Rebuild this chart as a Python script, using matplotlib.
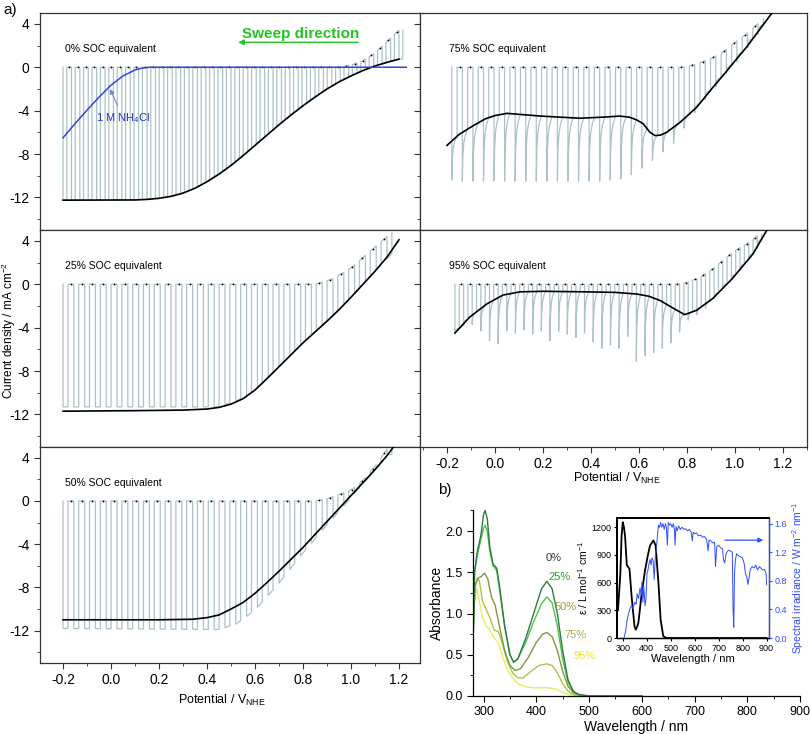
import numpy as np
import matplotlib.pyplot as plt
from matplotlib.ticker import MultipleLocator

plt.rcParams['font.family'] = ['Liberation Sans', 'DejaVu Sans']
plt.rcParams['mathtext.fontset'] = 'custom'
plt.rcParams['mathtext.rm'] = 'Liberation Sans'
plt.rcParams['mathtext.it'] = 'Liberation Sans:italic'
plt.rcParams['axes.linewidth'] = 0.9
plt.rcParams['axes.unicode_minus'] = False

# ---------------- panel a: chopped LSV data ----------------
# 0 % SOC
p0_light_x = [-0.2, 0.1, 0.15, 0.2, 0.25, 0.3, 0.35, 0.4, 0.45, 0.5, 0.55, 0.6, 0.65, 0.7, 0.75, 0.8, 0.85, 0.9, 0.95, 1.0, 1.05, 1.1, 1.15, 1.2]
p0_light_y = [-12.25, -12.23, -12.18, -12.08, -11.9, -11.6, -11.15, -10.55, -9.85, -9.05, -8.15, -7.2, -6.25, -5.3, -4.4, -3.55, -2.75, -2.0, -1.35, -0.8, -0.3, 0.12, 0.45, 0.75]
p0_dark_x = [-0.2, 0.95, 1.0, 1.05, 1.1, 1.15, 1.2]
p0_dark_y = [0, 0, 0.2, 0.6, 1.3, 2.4, 3.4]
nh4cl_x = [-0.2, -0.15, -0.1, -0.05, 0.0, 0.05, 0.1, 0.13, 0.16, 0.2, 1.23]
nh4cl_y = [-6.5, -5.2, -3.95, -2.75, -1.65, -0.8, -0.25, -0.07, 0.0, 0.0, 0.0]

# 25 % SOC
p25_light_x = [-0.2, 0.1, 0.3, 0.4, 0.45, 0.5, 0.55, 0.6, 0.65, 0.7, 0.75, 0.8, 0.85, 0.9, 0.95, 1.0, 1.05, 1.1, 1.15, 1.2]
p25_light_y = [-11.7, -11.65, -11.6, -11.5, -11.35, -11.05, -10.55, -9.75, -8.7, -7.6, -6.5, -5.4, -4.4, -3.4, -2.35, -1.2, 0.0, 1.2, 2.5, 4.1]
p25_trough_x = [-0.2, 0.45, 0.55, 0.6, 0.7, 0.8, 0.9, 1.0, 1.1, 1.17]
p25_trough_y = [-11.3, -11.3, -10.5, -9.75, -7.6, -5.4, -3.4, -1.2, 1.2, 2.8]
p25_dark_x = [-0.2, 0.85, 0.925, 1.0, 1.067, 1.13, 1.17]
p25_dark_y = [0, 0, 0.5, 1.5, 2.8, 4.0, 4.8]

# 50 % SOC
p50_light_x = [-0.2, 0.2, 0.34, 0.4, 0.45, 0.5, 0.55, 0.6, 0.65, 0.7, 0.75, 0.8, 0.85, 0.9, 0.95, 1.0, 1.05, 1.1, 1.15, 1.18]
p50_light_y = [-11.0, -11.0, -10.95, -10.8, -10.55, -10.0, -9.4, -8.55, -7.55, -6.5, -5.4, -4.3, -3.1, -1.9, -0.7, 0.5, 1.7, 2.9, 4.2, 5.1]
p50_trough_x = [-0.2, 0.45, 0.52, 0.6, 0.7, 0.8, 0.9, 1.0, 1.1, 1.15]
p50_trough_y = [-11.8, -11.9, -11.4, -10.1, -7.6, -4.8, -2.2, 0.3, 2.9, 4.3]
p50_dark_x = [-0.2, 0.85, 0.9, 0.925, 1.0, 1.05, 1.1, 1.15]
p50_dark_y = [0, 0, 0.2, 0.4, 1.0, 1.9, 3.2, 4.8]

# 75 % SOC
p75_light_x = [-0.2, -0.15, -0.092, -0.04, 0.0, 0.05, 0.19, 0.354, 0.45, 0.52, 0.56, 0.59, 0.617, 0.646, 0.667, 0.69, 0.715, 0.77, 0.84, 0.91, 0.96, 1.008, 1.05, 1.09, 1.154]
p75_light_y = [-7.2, -6.2, -5.4, -4.75, -4.45, -4.25, -4.5, -4.7, -4.6, -4.5, -4.6, -4.85, -5.2, -6.0, -6.3, -6.25, -6.0, -5.1, -3.7, -1.8, -0.5, 0.8, 1.9, 3.1, 5.0]
p75_dark_x = [-0.2, 0.77, 0.8, 0.85, 0.9, 0.95, 1.0, 1.05, 1.1, 1.14]
p75_dark_y = [0, 0, 0.05, 0.4, 0.8, 1.4, 2.3, 3.1, 4.1, 4.9]
p75_spikes = [-10.4, -10.5, -10.5, -10.5, -10.5, -10.5, -10.5, -10.5, -10.5, -10.5,
              -10.5, -10.5, -10.5, -10.5, -10.5, -10.4, -10.3, -9.9, -9.3, -8.6,
              -7.8, -7.0, -5.6, -4.2, -3.0, -1.8, -0.6, 0.5, 1.8, 3.0]

# 95 % SOC
p95_light_x = [-0.167, -0.104, -0.033, 0.033, 0.104, 0.2, 0.38, 0.5, 0.59, 0.64, 0.688, 0.742, 0.79, 0.84, 0.908, 0.988, 1.075, 1.133]
p95_light_y = [-4.5, -3.0, -1.8, -1.0, -0.7, -0.65, -0.7, -0.75, -0.9, -1.1, -1.5, -2.2, -2.8, -2.4, -1.3, 0.5, 2.8, 5.0]
p95_dark_x = [-0.2, 0.75, 0.79, 0.85, 0.9, 0.95, 1.0, 1.07, 1.1]
p95_dark_y = [0, 0, 0.1, 0.6, 1.3, 2.2, 3.1, 4.0, 4.6]
p95_spikes = [-4.5, -3.8, -3.7, -4.3, -5.2, -5.5, -4.3, -4.5, -4.2, -4.6,
              -4.3, -5.2, -4.4, -4.6, -4.9, -4.5, -5.3, -5.9, -5.6, -5.9,
              -4.8, -7.1, -6.6, -6.3, -5.9, -5.4, -4.4, -3.3, -2.8, -2.2,
              -1.3, -0.4, 0.5, 1.3, 2.2, 3.3]

# ---------------- panel b: UV-vis spectra ----------------
abs_wl = {
    '0%':  [280, 283, 288, 295, 300, 303, 307, 312, 318, 325, 330, 340, 350, 357, 365, 380, 395, 410, 420, 430, 440, 450, 460, 470, 480, 500, 600],
    '25%': [280, 283, 288, 295, 300, 303, 307, 312, 318, 325, 330, 340, 350, 357, 365, 380, 395, 410, 420, 430, 440, 450, 460, 470, 480, 500, 600],
    '50%': [280, 284, 290, 296, 302, 308, 315, 322, 330, 340, 350, 360, 370, 385, 400, 412, 420, 430, 440, 450, 460, 470, 485, 500, 600],
    '75%': [280, 284, 288, 292, 298, 305, 312, 320, 328, 335, 345, 355, 365, 375, 390, 405, 420, 430, 440, 450, 460, 470, 490, 600],
    '95%': [280, 283, 287, 292, 298, 305, 312, 320, 328, 335, 345, 355, 365, 380, 395, 420, 435, 445, 455, 470, 490, 600],
}
abs_val = {
    '0%':  [0.6, 1.5, 1.75, 1.95, 2.2, 2.25, 2.15, 1.8, 1.6, 1.55, 1.35, 0.85, 0.5, 0.41, 0.45, 0.7, 1.0, 1.3, 1.39, 1.3, 1.0, 0.55, 0.2, 0.06, 0.02, 0.0, 0.0],
    '25%': [0.65, 1.5, 1.7, 1.9, 2.03, 2.07, 2.0, 1.75, 1.58, 1.52, 1.3, 0.85, 0.5, 0.41, 0.45, 0.65, 0.9, 1.12, 1.2, 1.13, 0.85, 0.45, 0.17, 0.05, 0.01, 0.0, 0.0],
    '50%': [0.7, 1.35, 1.43, 1.45, 1.49, 1.42, 1.2, 1.1, 0.85, 0.55, 0.37, 0.31, 0.33, 0.47, 0.65, 0.75, 0.77, 0.72, 0.55, 0.3, 0.12, 0.04, 0.01, 0.0, 0.0],
    '75%': [0.8, 1.3, 1.43, 1.4, 1.15, 1.05, 0.95, 0.8, 0.78, 0.65, 0.42, 0.28, 0.22, 0.22, 0.3, 0.37, 0.39, 0.37, 0.28, 0.15, 0.06, 0.02, 0.0, 0.0],
    '95%': [0.9, 1.2, 1.3, 1.15, 0.95, 0.85, 0.8, 0.7, 0.65, 0.5, 0.32, 0.22, 0.15, 0.11, 0.1, 0.1, 0.09, 0.06, 0.03, 0.01, 0.0, 0.0],
}
abs_colors = {'0%': '#2f7a45', '25%': '#4cc44c', '50%': '#7f983c', '75%': '#a6c64a', '95%': '#e2ee5c'}
label_colors = {'0%': '#333333', '25%': '#2e9e2e', '50%': '#9aa03a', '75%': '#a2ae40', '95%': '#e6e640'}
label_pos = {'0%': (432, 1.67), '25%': (445, 1.44), '50%': (455, 1.08), '75%': (474, 0.74), '95%': (491, 0.49)}

eps_wl = [280, 290, 295, 300, 305, 310, 317, 328, 337, 349, 355, 365, 379, 393, 405, 414, 428, 437, 449, 458, 469, 483, 900]
eps_val = [300, 700, 1100, 1254, 1200, 1093, 788, 750, 448, 125, 90, 161, 484, 734, 900, 1003, 1057, 1003, 591, 197, 18, 0, 0]

sol_wl = [305, 312, 318, 325, 331, 337, 343, 350, 356, 360, 366, 372, 377, 380, 384, 388, 393, 397, 401, 405,
          410, 414, 418, 422, 427, 431, 436, 440, 445, 449, 453, 458, 463, 468, 473, 478, 482, 486, 490, 495,
          500, 506, 511, 516, 518, 522, 527, 533, 540, 547, 555, 562, 570, 578, 586, 590, 594, 600, 608, 616,
          625, 633, 641, 650, 656, 660, 668, 676, 683, 687, 692, 700, 708, 716, 720, 725, 731, 738, 745, 752,
          757, 760, 763, 766, 770, 775, 783, 791, 799, 806, 812, 818, 822, 826, 832, 840, 848, 855, 862, 870,
          878, 885, 892, 898, 900]
sol_val = [0.0, 0.1, 0.25, 0.35, 0.42, 0.45, 0.41, 0.5, 0.47, 0.62, 0.55, 0.7, 0.6, 0.78, 0.5, 0.72, 0.45, 0.55, 0.9, 0.95,
           1.05, 1.1, 1.02, 1.12, 1.08, 0.82, 1.15, 1.25, 1.45, 1.58, 1.55, 1.62, 1.55, 1.6, 1.52, 1.6, 1.55, 1.3, 1.62, 1.58,
           1.6, 1.55, 1.6, 1.5, 1.3, 1.56, 1.5, 1.57, 1.52, 1.55, 1.52, 1.53, 1.5, 1.52, 1.48, 1.36, 1.48, 1.46, 1.47, 1.43,
           1.44, 1.41, 1.42, 1.38, 1.22, 1.37, 1.36, 1.33, 1.34, 1.0, 1.28, 1.3, 1.26, 1.25, 1.1, 1.05, 1.18, 1.22, 1.23, 1.21,
           1.2, 0.4, 0.15, 0.9, 1.1, 1.18, 1.15, 1.14, 1.12, 1.05, 0.9, 0.85, 0.75, 0.82, 0.96, 1.0, 0.98, 1.02, 0.95, 1.0,
           0.97, 0.95, 0.96, 0.9, 0.75]

GRAY = '#adc2c6'
PROFILE_T = [0.0, 0.1, 0.3, 0.6, 1.0]
PROFILE_F = [0.0, 0.5, 0.75, 0.9, 1.0]


def chopped(x0, period, n, duty, light_x, light_y, dark_x, dark_y,
            trough_x=None, trough_y=None, spikes=None):
    xs, ys, dx = [], [], []
    w = duty * period
    for i in range(n):
        c = x0 + i * period
        d0 = np.interp(c, dark_x, dark_y)
        d1 = np.interp(c + w, dark_x, dark_y)
        if spikes is None:
            seg_x = [c, c + w]
            seg_y = [np.interp(c, trough_x, trough_y), np.interp(c + w, trough_x, trough_y)]
        else:
            start = np.interp(c + w, light_x, light_y)
            lo = spikes[i]
            seg_x = [c + t * w for t in PROFILE_T]
            seg_y = [lo + f * (start - lo) for f in PROFILE_F]
        xs += [c] + seg_x + [c + w]
        ys += [d0] + seg_y + [d1]
        if i < n - 1:
            dx.append(c + w + (period - w) / 2)
    dy = np.interp(dx, dark_x, dark_y)
    return xs, ys, dx, dy


def style_a(ax, xlim, show_x, show_y):
    ax.set_xlim(*xlim)
    ax.set_ylim(-15, 5)
    ax.xaxis.set_major_locator(MultipleLocator(0.2))
    ax.xaxis.set_minor_locator(MultipleLocator(0.1))
    ax.yaxis.set_major_locator(MultipleLocator(4))
    ax.yaxis.set_minor_locator(MultipleLocator(2))
    ax.tick_params(which='both', direction='out', labelsize=10, color='#333333')
    ax.tick_params(which='major', length=4)
    ax.tick_params(which='minor', length=2)
    if show_x:
        ax.set_xticklabels([f'{v:.1f}' for v in ax.get_xticks()])
    else:
        ax.tick_params(labelbottom=False)
    if not show_y:
        ax.tick_params(labelleft=False)
    for s in ax.spines.values():
        s.set_color('#333333')


W, H = 812, 734
fig = plt.figure(figsize=(W / 100, H / 100), dpi=100)

def fax(l, t, r, b):
    return fig.add_axes([l / W, 1 - b / H, (r - l) / W, (b - t) / H])

left_lim = (-0.296, 1.2875)
right_lim = (-0.3125, 1.3)
ax0 = fax(40, 13, 420, 230)
ax25 = fax(40, 230, 420, 447)
ax50 = fax(40, 447, 420, 663)
ax75 = fax(420, 13, 807, 230)
ax95 = fax(420, 230, 807, 447)

panels = [
    (ax0, '0% SOC equivalent', chopped(-0.2, 0.035, 41, 0.45, p0_light_x, p0_light_y, p0_dark_x, p0_dark_y, p0_light_x, p0_light_y), p0_light_x, p0_light_y, left_lim, False, True),
    (ax25, '25% SOC equivalent', chopped(-0.2, 0.045, 31, 0.45, p25_light_x, p25_light_y, p25_dark_x, p25_dark_y, p25_trough_x, p25_trough_y), p25_light_x, p25_light_y, left_lim, False, True),
    (ax50, '50% SOC equivalent', chopped(-0.2, 0.045, 31, 0.45, p50_light_x, p50_light_y, p50_dark_x, p50_dark_y, p50_trough_x, p50_trough_y), p50_light_x, p50_light_y, left_lim, True, True),
    (ax75, '75% SOC equivalent', chopped(-0.18, 0.044, 30, 0.5, p75_light_x, p75_light_y, p75_dark_x, p75_dark_y, spikes=p75_spikes), p75_light_x, p75_light_y, right_lim, False, False),
    (ax95, '95% SOC equivalent', chopped(-0.167, 0.036, 36, 0.5, p95_light_x, p95_light_y, p95_dark_x, p95_dark_y, spikes=p95_spikes), p95_light_x, p95_light_y, right_lim, True, False),
]
for ax, title, (cx, cy, dx, dy), lx, ly, xlim, sx, sy in panels:
    ax.plot(cx, cy, color=GRAY, lw=0.9, zorder=1)
    ax.plot(lx, ly, color='black', lw=1.2, zorder=3)
    ax.plot(dx, dy, 'o', color='black', ms=1.3, mew=0, zorder=3)
    ax.text(-0.19, 1.7, title, fontsize=7.5, ha='left', va='center')
    style_a(ax, xlim, sx, sy)

# 0 % extras
ax0.plot(nh4cl_x, nh4cl_y, color='#3344dd', lw=1.1, zorder=4)
ax0.annotate('1 M NH$_4$Cl', xy=(-0.004, -2.0), xytext=(0.05, -4.7), color='#2233bb', fontsize=8,
             ha='center', va='center',
             arrowprops=dict(arrowstyle='-|>', color='#7788cc', lw=0.8, mutation_scale=7, shrinkA=2, shrinkB=0))
ax0.text(0.79, 3.1, 'Sweep direction', color='#22c422', fontsize=11, fontweight='bold',
         family=['Liberation Sans Narrow', 'Liberation Sans'], ha='center', va='center')
ax0.annotate('', xy=(0.53, 2.3), xytext=(1.03, 2.3),
             arrowprops=dict(arrowstyle='-|>', color='#22c422', lw=1.0, mutation_scale=8, shrinkA=0, shrinkB=0))

fig.text(3 / W, 1 - 10 / H, 'a)', fontsize=11, va='center', ha='left')
fig.text(9 / W, 1 - 330 / H, 'Current density / mA cm$^{-2}$', rotation=90, fontsize=8.5, ha='center', va='center')
fig.text(222 / W, 1 - 700 / H, 'Potential / V$_{\\mathrm{NHE}}$', fontsize=9, ha='center', va='center')
fig.text(617 / W, 1 - 478 / H, 'Potential / V$_{\\mathrm{NHE}}$', fontsize=9, ha='center', va='center')

# ---------------- panel b ----------------
axb = fax(473, 510, 800, 696)
for key in ['95%', '75%', '50%', '25%', '0%']:
    axb.plot(abs_wl[key], abs_val[key], color=abs_colors[key], lw=1.0)
for key, (lx, ly) in label_pos.items():
    axb.text(lx, ly, key, color=label_colors[key], fontsize=8, ha='center', va='center')
axb.set_xlim(280, 900)
axb.set_ylim(0, 2.255)
axb.xaxis.set_major_locator(MultipleLocator(100))
axb.xaxis.set_minor_locator(MultipleLocator(50))
axb.yaxis.set_major_locator(MultipleLocator(0.5))
axb.yaxis.set_minor_locator(MultipleLocator(0.25))
axb.set_yticklabels([f'{v:.1f}' for v in axb.get_yticks()])
axb.tick_params(which='both', direction='out', labelsize=9)
axb.tick_params(which='major', length=4)
axb.tick_params(which='minor', length=2)
axb.spines['top'].set_visible(False)
axb.spines['right'].set_visible(False)
axb.set_xlabel('Wavelength / nm', fontsize=10, labelpad=1)
axb.set_ylabel('Absorbance', fontsize=10, labelpad=1)
fig.text(438 / W, 1 - 490 / H, 'b)', fontsize=11, va='center', ha='left')

# inset
BLUE = '#2f4cff'
axi = fax(617, 518, 769, 638)
axi.plot(eps_wl, eps_val, color='black', lw=1.3, zorder=3)
axi.set_xlim(276, 910)
axi.set_ylim(0, 1300)
axi.xaxis.set_major_locator(MultipleLocator(100))
axi.yaxis.set_major_locator(MultipleLocator(300))
axi.tick_params(which='both', direction='out', labelsize=6.5, length=2.5, pad=1.5)
axi.set_xlabel('Wavelength / nm', fontsize=8, labelpad=1)
axi.set_ylabel('ε / L mol$^{-1}$ cm$^{-1}$', fontsize=7.5, labelpad=1)
for s in ['top', 'left']:
    axi.spines[s].set_linewidth(1.3)
axt = axi.twinx()
axt.plot(sol_wl, sol_val, color=BLUE, lw=0.7, zorder=2)
axt.set_ylim(0, 1.68)
axt.yaxis.set_major_locator(MultipleLocator(0.4))
axt.set_yticklabels([f'{v:.1f}' for v in axt.get_yticks()])
axt.tick_params(axis='y', colors=BLUE, labelsize=6.5, length=2.5, pad=1.5, direction='out')
axt.spines['right'].set_color(BLUE)
axt.spines['top'].set_linewidth(1.3)
axt.spines['left'].set_linewidth(1.3)
axt.set_ylabel('Spectral irradiance / W m$^{-2}$ nm$^{-1}$', fontsize=7.5, color=BLUE, labelpad=2)
axt.annotate('', xy=(886, 1.37), xytext=(726, 1.37),
             arrowprops=dict(arrowstyle='-|>', color=BLUE, lw=0.9, mutation_scale=7, shrinkA=0, shrinkB=0))

fig.savefig('out.png', dpi=100)
